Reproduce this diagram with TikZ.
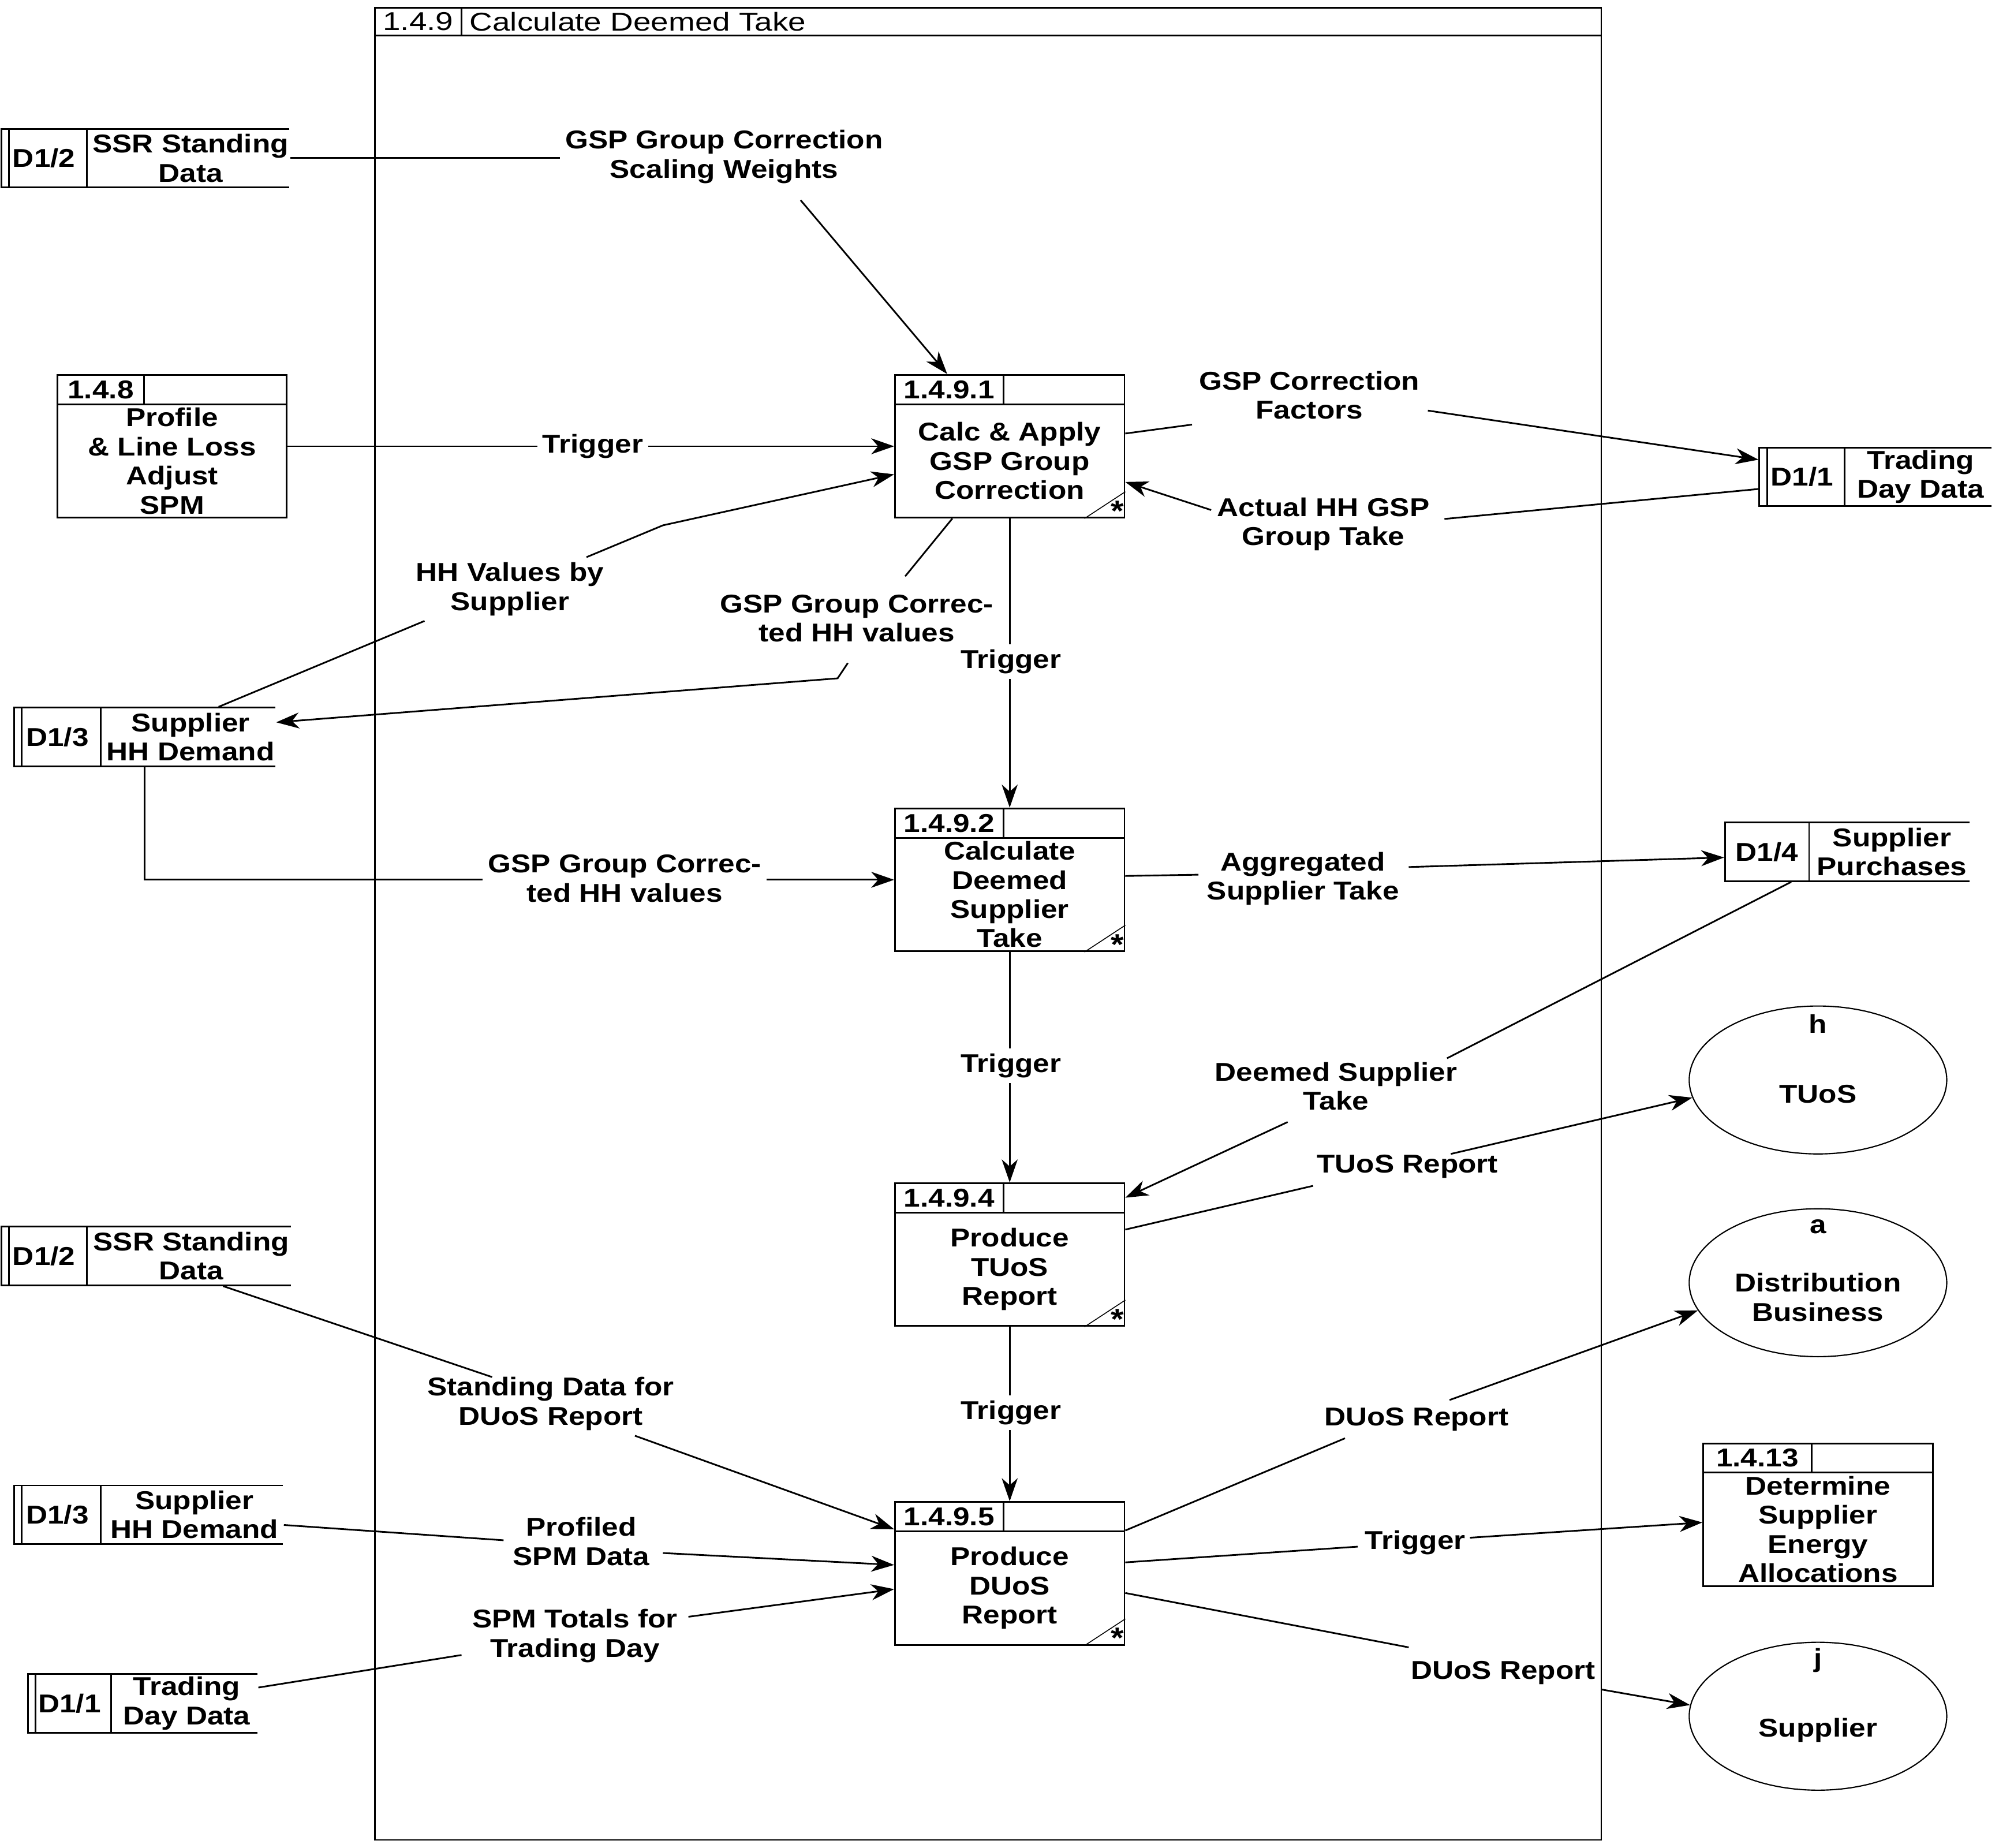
\documentclass[tikz,border=0pt]{standalone}
\usepackage{fontspec}
\setmainfont{Liberation Sans}[FakeStretch=1.15]
\newfontfamily\regfont{Liberation Sans}[FakeStretch=1.23]
\usetikzlibrary{arrows.meta,shapes.geometric,calc}

\newcommand\mkproc[6]{% name, left, top, divider offset, number, body
  \node[procbox] (#1) at (#2+90,#3+56) {};
  \draw (#2,#3+23) -- (#2+180,#3+23);
  \draw (#2+#4,#3) -- (#2+#4,#3+23);
  \node[txt] (#1-n) at ({#2+#4/2},#3+11.5) {#5};
  \node[txt] (#1-t) at (#2+90,#3+67.5) {#6};
}
\newcommand\mkstar[1]{%
  \draw[thin] ($(#1.south east)+(-32,0)$) -- ($(#1.south east)+(0,-21)$);
  \node[txt,font=\bfseries\fontsize{13}{13}\selectfont] at ($(#1.south east)+(-6,-6)$) {*};
}
\newcommand\mkstore[7]{% name, left, top, right, divider x, id, text
  \node[inner sep=0, minimum width={(#4-#2)*0.2mm}, minimum height=9.2mm] (#1) at ({(#2+#4)/2},#3+23) {};
  \draw (#4,#3) -- (#2,#3) -- (#2,#3+46) -- (#4,#3+46);
  \draw (#5,#3) -- (#5,#3+46);
  \node[txt] (#1-id) at ({(#2+#5)/2},#3+23) {#6};
  \node[txt] (#1-t) at ({(#5+#4)/2+2},#3+23) {#7};
}

\begin{document}
\begin{tikzpicture}[x=0.2mm,y=-0.2mm, line width=0.75pt,
  txt/.style={font=\bfseries\fontsize{11.5}{13}\selectfont, align=center, inner sep=1pt},
  lbl/.style={txt, inner sep=2pt},
  procbox/.style={draw, rectangle, minimum width=36mm, minimum height=22.4mm, inner sep=0},
  extent/.style={draw, ellipse, line width=0.55pt, minimum width=40.4mm, minimum height=23.2mm, inner sep=0},
  arr/.style={-{Stealth[length=3.6mm,width=2.5mm,inset=1.1mm]}}]
\useasboundingbox (0,0) rectangle (1568,1449);

% outer frame
\node[draw, rectangle, inner sep=0, minimum width=192.4mm, minimum height=287.4mm] (frame) at (775,724.5) {};
\draw (294,28) -- (1256,28);
\draw (362,6) -- (362,28);
\node[txt, font=\regfont\fontsize{11.5}{13}\selectfont] (frame-n) at (328,17) {1.4.9};
\node[txt, anchor=west, font=\regfont\fontsize{11.5}{13}\selectfont] (frame-t) at (366,17) {Calculate Deemed Take};

% processes
\mkproc{p1}{702}{294}{85}{1.4.9.1}{Calc \& Apply\\GSP Group\\Correction}
\mkproc{p2}{702}{634}{85}{1.4.9.2}{Calculate\\Deemed\\Supplier\\Take}
\mkproc{p4}{702}{928}{85}{1.4.9.4}{Produce\\TUoS\\Report}
\mkproc{p5}{702}{1178}{85}{1.4.9.5}{Produce\\DUoS\\Report}
\mkstar{p1}\mkstar{p2}\mkstar{p4}\mkstar{p5}
\mkproc{p148}{45}{294}{68}{1.4.8}{Profile\\\& Line Loss\\Adjust\\SPM}
\mkproc{p1413}{1336}{1132}{85}{1.4.13}{Determine\\Supplier\\Energy\\Allocations}

% data stores
\mkstore{s12a}{1}{101}{227}{68}{D1/2}{SSR Standing\\Data}
\draw (7,101) -- (7,147);
\mkstore{s11a}{1380}{351}{1562}{1447}{D1/1}{Trading\\Day Data}
\draw (1386,351) -- (1386,397);
\mkstore{s13a}{11}{555}{216}{79}{D1/3}{Supplier\\HH Demand}
\draw (17,555) -- (17,601);
\mkstore{s14}{1353}{645}{1545}{1419}{D1/4}{Supplier\\Purchases}
\mkstore{s12b}{1}{962}{228}{68}{D1/2}{SSR Standing\\Data}
\draw (7,962) -- (7,1008);
\mkstore{s13b}{11}{1165}{222}{79}{D1/3}{Supplier\\HH Demand}
\draw (17,1165) -- (17,1211);
\mkstore{s11b}{22}{1313}{202}{87}{D1/1}{Trading\\Day Data}
\draw (28,1313) -- (28,1359);

% external entities
\node[extent] (eh) at (1426,847) {};
\node[txt] (eh-l) at (1426,803) {h};
\node[txt] (eh-t) at (1426,858) {TUoS};
\node[extent] (ea) at (1426,1006) {};
\node[txt] (ea-l) at (1426,962) {a};
\node[txt] (ea-t) at (1426,1017.5) {Distribution\\Business};
\node[extent] (ej) at (1426,1346) {};
\node[txt] (ej-l) at (1426,1302) {j};
\node[txt] (ej-t) at (1426,1357) {Supplier};

% flow labels
\node[lbl] (L1) at (568,123) {GSP Group Correction\\Scaling Weights};
\node[lbl] (L2) at (465,350) {Trigger};
\node[lbl] (L3) at (400,462) {HH Values by\\Supplier};
\node[lbl] (L4) at (672,485) {GSP Group Correc-\\ted HH values};
\node[lbl] (L5) at (793,519) {Trigger};
\node[lbl] (L6) at (1027,310) {GSP Correction\\Factors};
\node[lbl] (L7) at (1038,411) {Actual HH GSP\\Group Take};
\node[lbl] (L8) at (490,689) {GSP Group Correc-\\ted HH values};
\node[lbl] (L9) at (1022,689) {Aggregated\\Supplier Take};
\node[lbl] (L10) at (793,836) {Trigger};
\node[lbl] (L11) at (1048,852) {Deemed Supplier\\Take};
\node[lbl] (L12) at (1104,915) {TUoS Report};
\node[lbl] (L13) at (793,1108) {Trigger};
\node[lbl] (L14) at (432,1101) {Standing Data for\\DUoS Report};
\node[lbl] (L15) at (456,1209) {Profiled\\SPM Data};
\node[lbl] (L16) at (451,1283) {SPM Totals for\\Trading Day};
\node[lbl] (L17) at (1111,1113) {DUoS Report};
\node[lbl] (L18) at (1110,1210) {Trigger};
\node[lbl] (L19) at (1179,1312) {DUoS Report};

% waypoints
\coordinate (c1) at (628,157);
\coordinate (c3a) at (333,487);
\coordinate (c3b) at (520,412);
\coordinate (c4a) at (710,452);
\coordinate (c4b) at (665,520);
\coordinate (c4c) at (657,532);
\coordinate (c6a) at (935,333);
\coordinate (c6b) at (1120,322);
\coordinate (c7a) at (1133,407);
\coordinate (c7b) at (950,400);
\coordinate (c8) at (113.5,690);
\coordinate (c9a) at (940,686);
\coordinate (c9b) at (1105,680);
\coordinate (c11a) at (1135,830);
\coordinate (c11b) at (1010,880);
\coordinate (c12a) at (1030,930);
\coordinate (c12b) at (1138,905);
\coordinate (c14a) at (386,1080);
\coordinate (c14b) at (498,1126);
\coordinate (c15a) at (395,1208);
\coordinate (c15b) at (520,1218);
\coordinate (c16a) at (362,1298);
\coordinate (c16b) at (540,1268);
\coordinate (c17a) at (1055,1128);
\coordinate (c17b) at (1137,1098);
\coordinate (c18a) at (1065,1213);
\coordinate (c18b) at (1153,1206);
\coordinate (c19a) at (1105,1292);
\coordinate (c19b) at (1256,1325);

% connectors
\draw (s12a.east) -- (s12a.east -| L1.west);
\draw[arr] (c1) -- ($(p1.north)+(-49,0)$);
\draw (p148.east |- p1.west) -- (L2.west);
\draw[arr] (L2.east) -- (p1.west);
\draw ($(s13a.north)+(58,0)$) -- (c3a);
\draw[arr] (L3) -- (c3b) -- ($(p1.west)+(0,22)$);
\draw ($(p1.south)+(-45,0)$) -- (c4a);
\draw[arr] (c4b) -- (c4c) -- ($(s13a.east)+(0,-11.5)$);
\draw (p1.south) -- (p1.south |- L5.north);
\draw[arr] (p2.north |- L5.south) -- (p2.north);
\draw ($(p1.east)+(0,-10)$) -- (c6a);
\draw[arr] (c6b) -- ($(s11a.west)+(0,-13.5)$);
\draw ($(s11a.west)+(0,9.5)$) -- (c7a);
\draw[arr] (c7b) -- ($(p1.east)+(0,28)$);
\draw (s13a.south) -- (c8) -- (L8.west |- c8);
\draw[arr] (L8.east |- p2.west) -- (p2.west);
\draw ($(p2.east)+(0,-3)$) -- (c9a);
\draw[arr] (c9b) -- ($(s14.west)+(0,4.5)$);
\draw (p2.south) -- (p2.south |- L10.north);
\draw[arr] (p4.north |- L10.south) -- (p4.north);
\draw ($(s14.south)+(-44,0)$) -- (c11a);
\draw[arr] (c11b) -- ($(p4.north east)+(0,12)$);
\draw ($(p4.north east)+(0,37)$) -- (c12a);
\draw[arr] (c12b) -- (eh.188);
\draw (p4.south) -- (p4.south |- L13.north);
\draw[arr] (p5.north |- L13.south) -- (p5.north);
\draw ($(s12b.south)+(60.5,0)$) -- (c14a);
\draw[arr] (c14b) -- ($(p5.north west)+(0,22)$);
\draw ($(s13b.east)+(0,8)$) -- (c15a);
\draw[arr] (c15b) -- ($(p5.north west)+(0,50)$);
\draw ($(s11b.east)+(0,-12.5)$) -- (c16a);
\draw[arr] (c16b) -- ($(p5.north west)+(0,69)$);
\draw ($(p5.north east)+(0,23)$) -- (c17a);
\draw[arr] (c17b) -- (ea.193);
\draw ($(p5.north east)+(0,48)$) -- (c18a);
\draw[arr] (c18b) -- ($(p1413.west)+(0,6)$);
\draw ($(p5.north east)+(0,72)$) -- (c19a);
\draw[arr] (c19b) -- (ej.175);
\end{tikzpicture}
\end{document}
